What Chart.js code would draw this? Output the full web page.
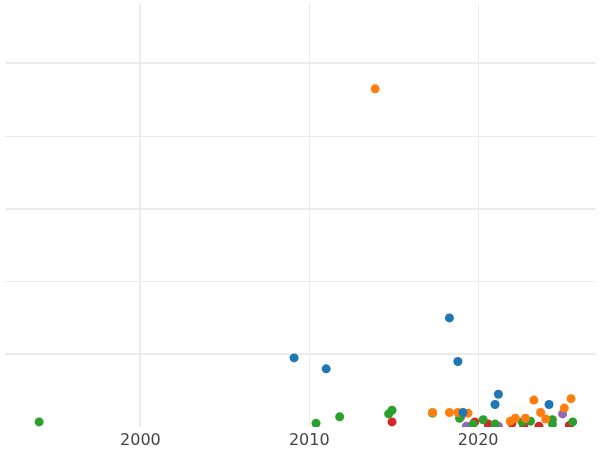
<!DOCTYPE html>
<html>
<head>
<script src="https://cdn.jsdelivr.net/npm/chart.js@4/dist/chart.umd.min.js"></script>
<style>body{margin:0;background:#fff}#wrap{width:600px;height:450px}</style>
</head>
<body>
<div id="wrap"><canvas id="chart"></canvas></div>
<script>
// years and values
var azulX = [2009.1, 2011.0, 2018.3, 2018.8, 2021.2, 2021.0, 2024.2, 2019.1];
var azulY = [0.95, 0.80, 1.50, 0.90, 0.45, 0.31, 0.31, 0.20];
var laranjaX = [2013.9, 2017.3, 2018.3, 2018.8, 2019.4, 2022.2, 2022.8, 2023.3, 2023.7, 2024.0, 2025.1, 2025.5, 2021.9];
var laranjaY = [4.65, 0.20, 0.20, 0.20, 0.19, 0.12, 0.12, 0.37, 0.20, 0.11, 0.26, 0.39, 0.08];
var verdeX = [1994.0, 2010.4, 2011.8, 2014.7, 2014.9, 2017.3, 2018.9, 2020.3, 2021.0, 2022.6, 2023.1, 2024.4, 2024.4, 2025.6, 2019.7];
var verdeY = [0.07, 0.05, 0.14, 0.18, 0.23, 0.19, 0.12, 0.10, 0.04, 0.07, 0.08, 0.10, 0.04, 0.07, 0.04];
var vermelhoX = [2014.9, 2019.8, 2020.6, 2022.0, 2022.7, 2023.6, 2025.4];
var vermelhoY = [0.07, 0.07, 0.04, 0.05, 0.01, 0.01, 0.02];
var roxoX = [2019.0, 2019.3, 2021.2, 2020.6, 2025.0];
var roxoY = [0.15, 0.01, 0.01, 0.01, 0.18];
var anos = [2000, 2010, 2020];

function pontos(xs, ys) {
    var lista = [];
    for (var i = 0; i < xs.length; i++) lista.push({x: xs[i], y: ys[i]});
    return lista;
}

function serie(xs, ys, cor) {
    return {data: pontos(xs, ys), backgroundColor: cor, borderWidth: 0, pointRadius: 4.5, clip: 0};
}

new Chart(document.getElementById('chart'), {
    type: 'scatter',
    data: {
        datasets: [
            serie(azulX, azulY, '#1f77b4'),
            serie(laranjaX, laranjaY, '#ff7f0e'),
            serie(verdeX, verdeY, '#2ca02c'),
            serie(vermelhoX, vermelhoY, '#d62728'),
            serie(roxoX, roxoY, '#9467bd')
        ]
    },
    options: {
        responsive: true,
        maintainAspectRatio: false,
        animation: false,
        layout: {padding: 0},
        plugins: {legend: {display: false}, tooltip: {enabled: false}},
        scales: {
            x: {
                type: 'linear',
                min: 1991.95,
                max: 2026.95,
                afterBuildTicks: function (s) { s.ticks = anos.map(function (v) { return {value: v}; }); },
                afterFit: function (s) { s.height = 23; },
                border: {display: false},
                grid: {color: '#ebebeb', lineWidth: function (c) { return c.tick && c.tick.value == 2000 ? 2 : 1; }, drawTicks: false},
                ticks: {color: '#444', font: {family: 'DejaVu Sans', size: 16}, padding: 4, maxRotation: 0,
                    callback: function (v) { return String(v); }}
            },
            y: {
                min: 0,
                max: 5.81,
                afterBuildTicks: function (s) { s.ticks = [1, 2, 3, 4, 5].map(function (v) { return {value: v}; }); },
                display: true,
                border: {display: false},
                grid: {color: '#ebebeb', lineWidth: function (c) { return c.tick && c.tick.value % 2 == 1 ? 2 : 1; }, drawTicks: false},
                ticks: {display: false},
                afterFit: function (s) { s.width = 0; }
            }
        }
    }
});
</script>
</body>
</html>
